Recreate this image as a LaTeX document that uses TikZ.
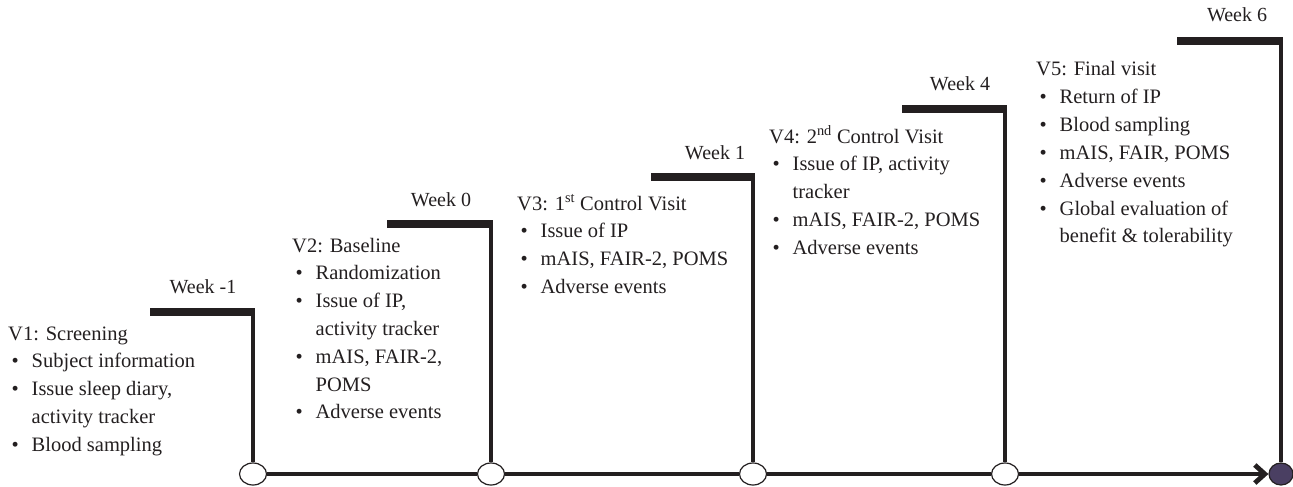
\documentclass[tikz,border=0pt]{standalone}
\usepackage{fontspec}
\setmainfont{Liberation Serif}
\usetikzlibrary{shapes.geometric,arrows.meta}
\definecolor{ink}{HTML}{231F20}
\definecolor{endfill}{HTML}{4A3F62}
\newcommand{\bul}{\makebox[23.5pt][l]{\hspace{3.5pt}\textbullet}}
\newcommand{\bsp}{\hspace*{23.5pt}}
\begin{document}
\begin{tikzpicture}[x=1pt,y=-1pt,
  txt/.style={anchor=base west,inner sep=0pt,font=\fontsize{20.5}{27.8}\selectfont,text=ink},
  wk/.style={anchor=base,inner sep=0pt,font=\fontsize{20}{24}\selectfont,text=ink},
  bar/.style={line width=8pt,draw=ink},
  stem/.style={line width=4.8pt,draw=ink},
  tl/.style={line width=4.8pt,draw=ink},
  dot/.style={ellipse,draw=ink,line width=1.2pt,fill=white,minimum width=27pt,minimum height=22pt,inner sep=0pt},
  enddot/.style={dot,fill=endfill,minimum width=24pt}]
\useasboundingbox (0,0) rectangle (1293,487);

% visit circles
\node[dot] (c1) at (253,474) {};
\node[dot] (c2) at (491,474) {};
\node[dot] (c3) at (753,474) {};
\node[dot] (c4) at (1005,474) {};
\node[enddot] (c5) at (1281,474) {};

% step corners and bar ends
\coordinate (t1) at (253,312);  \coordinate (b1) at (150,312);
\coordinate (t2) at (491,224);  \coordinate (b2) at (387,224);
\coordinate (t3) at (753,177);  \coordinate (b3) at (651,177);
\coordinate (t4) at (1005,109); \coordinate (b4) at (902,109);
\coordinate (t5) at (1281,41);  \coordinate (b5) at (1177,41);

\foreach \i in {1,...,5}{
  \draw[bar] (b\i) -- ([xshift=2.4pt]t\i);
  \draw[stem] (t\i) -- (c\i);
}

% timeline
\draw[tl] (c1) -- (c2);
\draw[tl] (c2) -- (c3);
\draw[tl] (c3) -- (c4);
\draw[tl,-{Straight Barb[length=10pt,width=18pt]}] (c4) -- (c5);

% week labels
\node[wk] (w1) at (203,293) {Week -1};
\node[wk] (w2) at (441,206) {Week 0};
\node[wk] (w3) at (715,159) {Week 1};
\node[wk] (w4) at (960,91) {Week 4};
\node[wk] (w5) at (1237,22) {Week 6};

% visit descriptions
\node[txt] (v1) at (8,340) {\begin{tabular}[t]{@{}l@{}}
V1: Screening\\
\bul Subject information\\
\bul Issue sleep diary,\\
\bsp activity tracker\\
\bul Blood sampling
\end{tabular}};

\node[txt] (v2) at (292,252) {\begin{tabular}[t]{@{}l@{}}
V2: Baseline\\
\bul Randomization\\
\bul Issue of IP,\\
\bsp activity tracker\\
\bul mAIS, FAIR-2,\\
\bsp POMS\\
\bul Adverse events
\end{tabular}};

\node[txt] (v3) at (517,210) {\begin{tabular}[t]{@{}l@{}}
V3: 1\textsuperscript{st} Control Visit\\
\bul Issue of IP\\
\bul mAIS, FAIR-2, POMS\\
\bul Adverse events
\end{tabular}};

\node[txt] (v4) at (769,143) {\begin{tabular}[t]{@{}l@{}}
V4: 2\textsuperscript{nd} Control Visit\\
\bul Issue of IP, activity\\
\bsp tracker\\
\bul mAIS, FAIR-2, POMS\\
\bul Adverse events
\end{tabular}};

\node[txt] (v5) at (1036,76) {\begin{tabular}[t]{@{}l@{}}
V5: Final visit\\
\bul Return of IP\\
\bul Blood sampling\\
\bul mAIS, FAIR, POMS\\
\bul Adverse events\\
\bul Global evaluation of\\
\bsp benefit \& tolerability
\end{tabular}};
\end{tikzpicture}
\end{document}
